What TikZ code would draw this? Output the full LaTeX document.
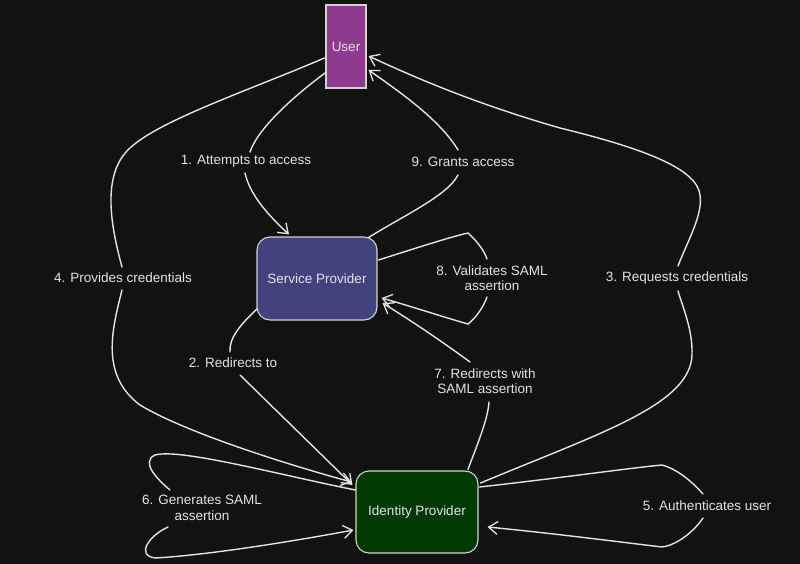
\documentclass[tikz,border=0pt]{standalone}
\usepackage{fontspec}
\setmainfont{Liberation Sans}
\usetikzlibrary{arrows.meta,calc}
\definecolor{bg}{HTML}{121212}
\definecolor{ink}{HTML}{E4E4E4}
\definecolor{userc}{HTML}{8E3A8E}
\definecolor{spc}{HTML}{44427E}
\definecolor{idpc}{HTML}{033A03}
\definecolor{edge}{HTML}{D2D2D2}
\tikzset{
  box/.style={draw=edge, line width=1.1pt, text=ink, inner sep=0pt,
    font=\fontsize{13.5}{15.5}\selectfont, align=center},
  lbl/.style={text=ink, inner sep=1pt, font=\fontsize{13.5}{15.5}\selectfont, align=center},
  wire/.style={draw=ink, line width=1.4pt, line cap=round},
  arr/.style={wire, -{Straight Barb[length=9pt,width=13pt,line width=1.3pt]}}
}
\begin{document}
\begin{tikzpicture}[x=1pt,y=-1pt]
\fill[bg] (0,0) rectangle (800,564);
\useasboundingbox (0,0) rectangle (800,564);

% nodes
\node[box, fill=userc, minimum width=40pt, minimum height=83pt] (user) at (346,46.5) {User};
\node[box, fill=spc, rounded corners=13pt, minimum width=120pt, minimum height=83pt] (sp) at (317,278.5) {Service Provider};
\node[box, fill=idpc, rounded corners=13pt, minimum width=122pt, minimum height=82pt] (idp) at (417,512) {Identity Provider};

% labels
\node[lbl] (l1) at (246,161) {1. Attempts to access};
\node[lbl] (l9) at (463,162) {9. Grants access};
\node[lbl] (l3) at (677,278) {3. Requests credentials};
\node[lbl] (l4) at (123,278) {4. Provides credentials};
\node[lbl] (l2) at (233,363) {2. Redirects to};
\node[lbl] (l7) at (485,381) {7. Redirects with\\SAML assertion};
\node[lbl] (l8) at (492,278) {8. Validates SAML\\assertion};
\node[lbl] (l5) at (707,506) {5. Authenticates user};
\node[lbl] (l6) at (202,508) {6. Generates SAML\\assertion};

% 1. user -> sp
\draw[wire] ($(user.west)+(1,25.5)$) .. controls (295,95) and (258,128) .. ($(l1.center)+(4,-9)$);
\draw[arr] ($(l1.center)+(-1,12)$) .. controls (250,195) and (268,215) .. ($(sp.north)+(-28,-2)$);

% 9. sp -> user
\draw[wire] ($(sp.north east)+(-9,1)$) .. controls (405,215) and (448,195) .. ($(l9.center)+(-5,13)$);
\draw[arr] ($(l9.center)+(-5,-12)$) .. controls (440,120) and (400,92) .. ($(user.east)+(2,23.5)$);

% 3. idp -> user
\draw[wire] ($(idp.east)+(2,-29)$) .. controls (600,433) and (690,405) .. (692,355)
  .. controls (693,330) and (682,305) .. ($(l3.center)+(1,13)$);
\draw[arr] ($(l3.center)+(1,-12)$) .. controls (688,240) and (703,215) .. (700,195)
  .. controls (697,170) and (650,150) .. (560,128)
  .. controls (480,105) and (420,80) .. ($(user.east)+(2,9.5)$);

% 4. user -> idp
\draw[wire] ($(user.west)+(-1,11.5)$) .. controls (250,90) and (160,120) .. (130,148)
  .. controls (100,175) and (112,230) .. ($(l4.center)+(-1,-11)$);
\draw[arr] ($(l4.center)+(-1,12)$) .. controls (112,330) and (100,375) .. (140,405)
  .. controls (190,435) and (300,468) .. ($(idp.west)+(-4,-30)$);

% 2. sp -> idp
\draw[wire] ($(sp.south west)+(1,-12)$) .. controls (240,325) and (229,338) .. ($(l2.center)+(-3,-11)$);
\draw[arr] ($(l2.center)+(7,12)$) -- ($(idp.west)+(-3,-27)$);

% 7. idp -> sp
\draw[wire] ($(idp.north)+(51,-1)$) .. controls (475,450) and (488,420) .. ($(l7.center)+(4,21)$);
\draw[arr] ($(l7.center)+(-15,-19)$) .. controls (440,340) and (410,320) .. ($(sp.east)+(5,24.5)$);

% 8. sp -> sp
\draw[wire] ($(sp.east)+(1,-18.5)$) .. controls (410,250) and (450,237) .. (468,233)
  .. controls (476,240) and (484,250) .. ($(l8.center)+(-5,-19)$);
\draw[arr] ($(l8.center)+(-5,19)$) .. controls (484,306) and (476,318) .. (468,324)
  .. controls (440,316) and (410,306) .. ($(sp.east)+(4,19.5)$);

% 5. idp -> idp
\draw[wire] ($(idp.east)+(1,-25)$) .. controls (560,478) and (630,468) .. (662,465)
  .. controls (680,470) and (695,485) .. ($(l5.center)+(-4,-12)$);
\draw[arr] ($(l5.center)+(-4,12)$) .. controls (695,530) and (678,545) .. (662,547)
  .. controls (620,542) and (550,533) .. ($(idp.east)+(9,15)$);

% 6. idp -> idp
\draw[wire] ($(idp.west)+(0,-22)$) .. controls (280,475) and (180,448) .. (155,455)
  .. controls (140,462) and (158,480) .. ($(l6.center)+(-32,-18)$);
\draw[arr] ($(l6.center)+(-34,19)$) .. controls (150,535) and (135,555) .. (155,558)
  .. controls (210,555) and (300,540) .. ($(idp.west)+(-2,18)$);
\end{tikzpicture}
\end{document}
